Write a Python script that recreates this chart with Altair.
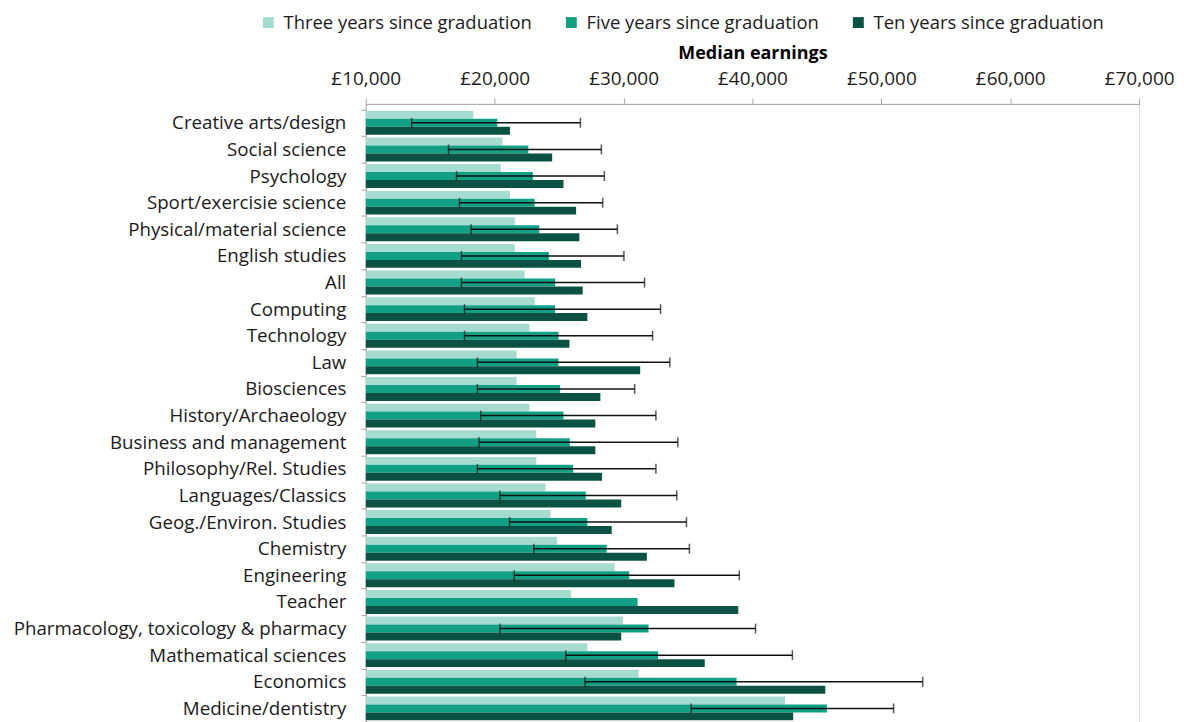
import altair as alt
import pandas as pd

categories = [
    "Creative arts/design", "Social science", "Psychology", "Sport/exercisie science",
    "Physical/material science", "English studies", "All", "Computing", "Technology",
    "Law", "Biosciences", "History/Archaeology", "Business and management",
    "Philosophy/Rel. Studies", "Languages/Classics", "Geog./Environ. Studies",
    "Chemistry", "Engineering", "Teacher", "Pharmacology, toxicology & pharmacy",
    "Mathematical sciences", "Economics", "Medicine/dentistry",
]
three_years = [18350, 20600, 20470, 21190, 21570, 21570, 22320, 23100, 22710, 21700, 21700,
               22710, 23230, 23230, 23950, 24330, 24850, 29310, 25930, 29950, 27190, 31170, 42530]
five_years = [20200, 22610, 22970, 23100, 23460, 24210, 24690, 24690, 24950, 24950, 25080,
              25340, 25830, 26090, 27070, 27190, 28690, 30440, 31090, 31940, 32680, 38770, 45780]
ten_years = [21190, 24460, 25340, 26320, 26570, 26700, 26830, 27190, 25800, 31290, 28200,
             27810, 27810, 28330, 29820, 29080, 31810, 33950, 38900, 29820, 36300, 45650, 43160]
err_low = [13560, 16420, 17040, 17270, 18170, 17420, 17420, 17660, 17660, 18660, 18660,
           18920, 18790, 18660, 20410, 21160, 23040, 21520, None, 20410, 25520, 27010, 35240]
err_high = [26650, 28280, 28510, 28380, 29520, 30030, 31630, 32870, 32250, 33590, 30860,
            32510, 34210, 32510, 34130, 34880, 35110, 38980, None, 40240, 43100, 53210, 50950]

series = ["Three years since graduation", "Five years since graduation", "Ten years since graduation"]
colors = ["#a6dbd1", "#12a084", "#0b5244"]
tick_values = [10000, 20000, 30000, 40000, 50000, 60000, 70000]

rows = []
for i, c in enumerate(categories):
    for s, vals in zip(series, [three_years, five_years, ten_years]):
        rows.append({"category": c, "series": s, "value": vals[i]})
bars_df = pd.DataFrame(rows)
err_df = pd.DataFrame({"category": categories, "lo": err_low, "hi": err_high}).dropna()

FONT = "Open Sans"
x_scale = alt.Scale(domain=[10000, 70000], zero=False, nice=False)
y_scale = alt.Scale(paddingInner=0, paddingOuter=0.144, align=0.73)

bars = alt.Chart(bars_df).mark_bar(cornerRadius=0).encode(
    x=alt.X("value:Q", scale=x_scale,
            axis=alt.Axis(orient="top", title="Median earnings", values=tick_values,
                          labelExpr="'£' + format(datum.value, ',')", grid=False,
                          labelFlush=False,
                          domainColor="#a6a6a6", tickColor="#a6a6a6", tickSize=6,
                          labelPadding=9, titlePadding=8, labelFontSize=19,
                          titleFontSize=18, titleFontWeight="bold", labelFont=FONT,
                          titleFont=FONT, labelColor="#1a1a1a", titleColor="#000000")),
    x2=alt.datum(10000),
    y=alt.Y("category:N", sort=categories, scale=y_scale,
            axis=alt.Axis(title=None, tickBand="extent", tickSize=5, domainColor="#a6a6a6",
                          tickColor="#a6a6a6", labelPadding=15, labelFontSize=18.8,
                          labelFont=FONT, labelColor="#1a1a1a", labelLimit=400)),
    yOffset=alt.YOffset("series:N", sort=series,
                        scale=alt.Scale(paddingOuter=0.17, paddingInner=0)),
    color=alt.Color("series:N", sort=series, scale=alt.Scale(domain=series, range=colors),
                    legend=alt.Legend(title=None, orient="none", legendX=-107, legendY=-91,
                                      direction="horizontal", symbolType="square",
                                      symbolSize=120, symbolStrokeWidth=0, labelFontSize=18.5,
                                      labelFont=FONT, labelColor="#1a1a1a", columnPadding=30,
                                      symbolOffset=0, labelOffset=6, labelLimit=400)),
)

rule = alt.Chart(err_df).mark_rule(color="#111111", strokeWidth=1.5).encode(
    x=alt.X("lo:Q", scale=x_scale), x2="hi:Q",
    y=alt.Y("category:N", sort=categories, scale=y_scale),
)
cap_lo = alt.Chart(err_df).mark_tick(color="#111111", thickness=1.5, size=10).encode(
    x=alt.X("lo:Q", scale=x_scale),
    y=alt.Y("category:N", sort=categories, scale=y_scale),
)
cap_hi = alt.Chart(err_df).mark_tick(color="#111111", thickness=1.5, size=10).encode(
    x=alt.X("hi:Q", scale=x_scale),
    y=alt.Y("category:N", sort=categories, scale=y_scale),
)

chart = alt.layer(bars, rule, cap_lo, cap_hi).properties(
    width=776, height=622,
    autosize=alt.AutoSizeParams(type="none"),
    padding={"left": 359, "top": 95, "right": 37, "bottom": 0},
).configure_view(stroke=None).configure(background="white")

chart.save("out.html", embed_options={"renderer": "svg", "actions": False})
